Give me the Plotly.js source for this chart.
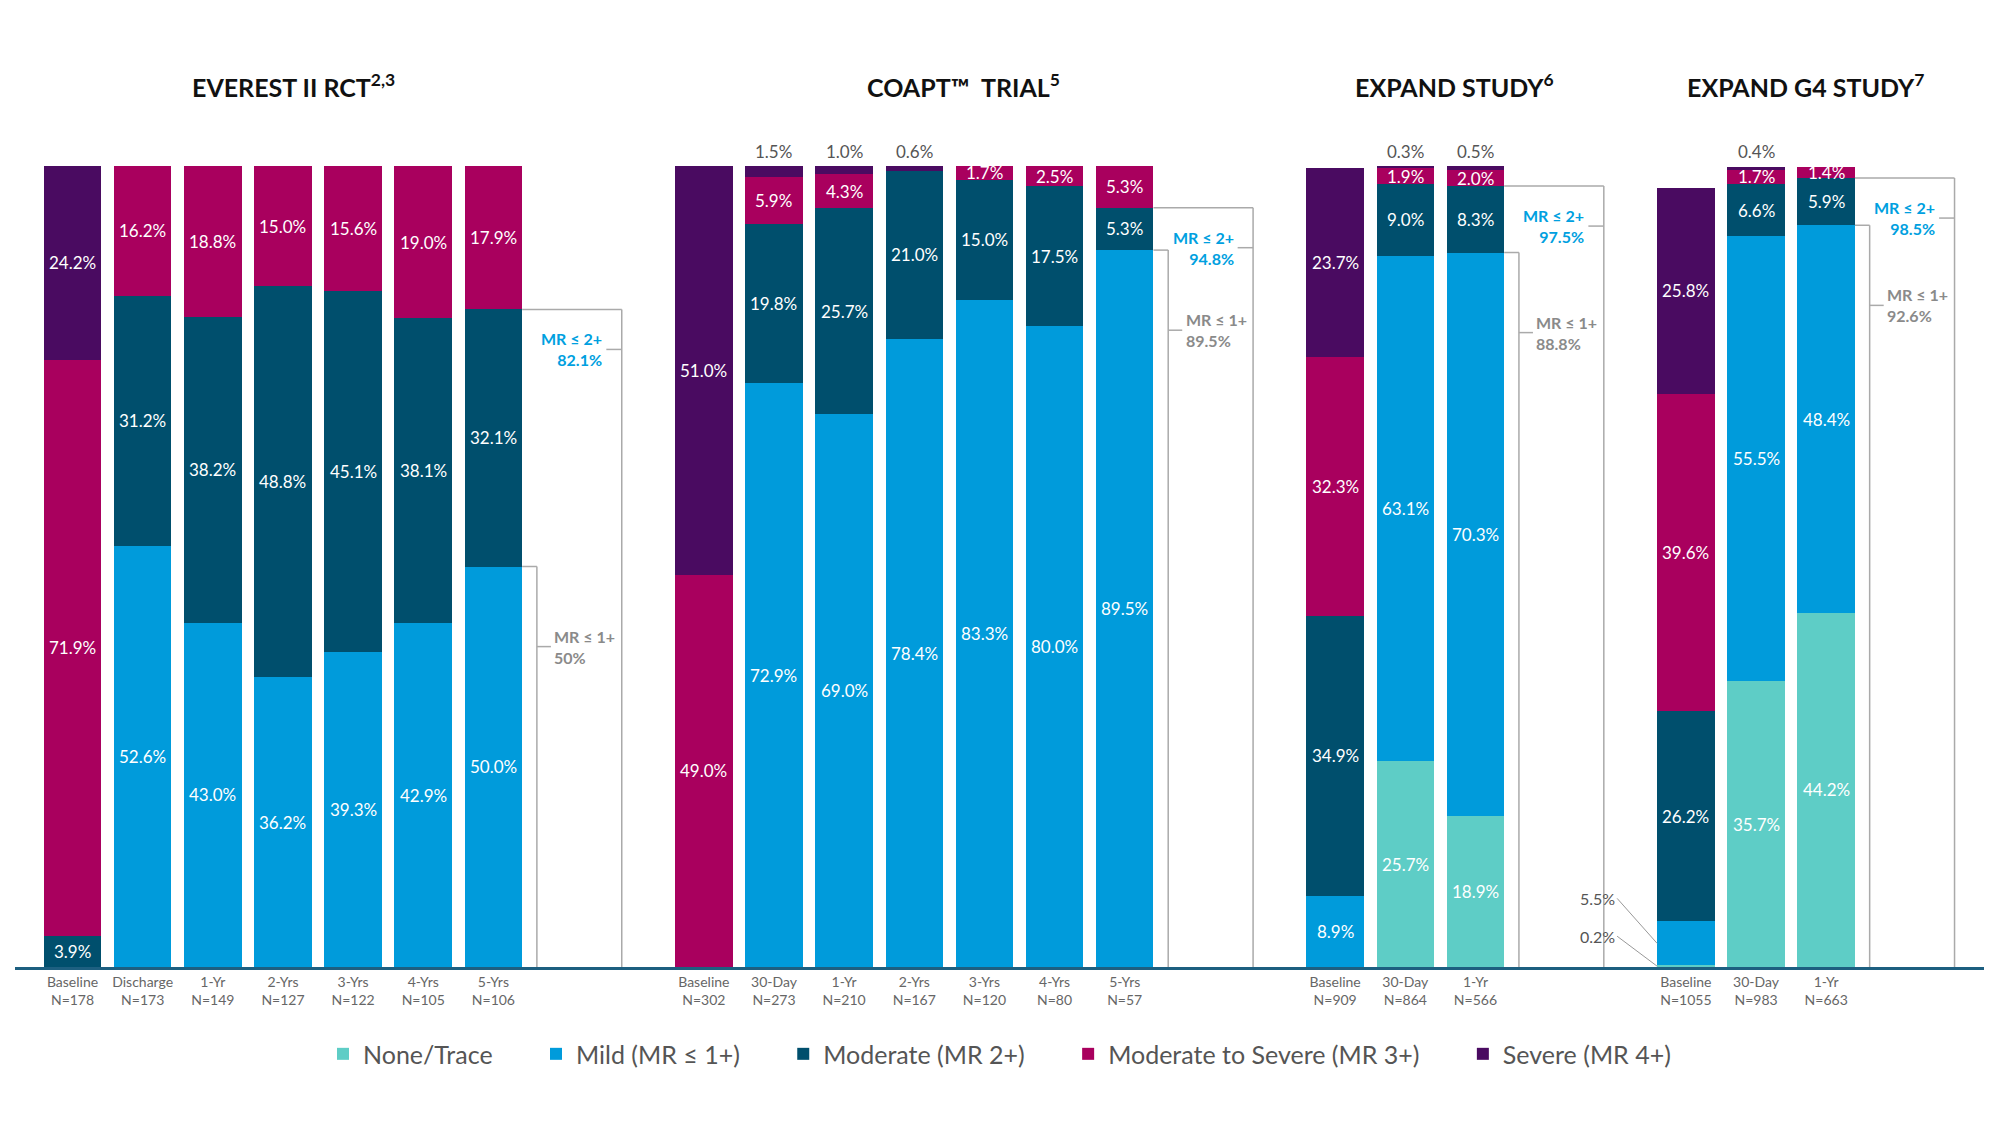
<!DOCTYPE html>
<html>
<head>
<meta charset="utf-8">
<script src="https://cdn.plot.ly/plotly-3.0.1.min.js"></script>
<style>
  html, body { margin: 0; padding: 0; background: #fff; }
  #chart { width: 2000px; height: 1145px; }
</style>
</head>
<body>
<div id="chart"></div>
<script>
// study groups, with the visits in each
var groupTitles = ['EVEREST II RCT<sup>2,3</sup>', 'COAPT\u2122  TRIAL<sup>5</sup>', 'EXPAND STUDY<sup>6</sup>', 'EXPAND G4 STUDY<sup>7</sup>'];
var groupSizes = [7, 7, 3, 3];
var visitLabels = ['Baseline', 'Discharge', '1-Yr', '2-Yrs', '3-Yrs', '4-Yrs', '5-Yrs',
                   'Baseline', '30-Day', '1-Yr', '2-Yrs', '3-Yrs', '4-Yrs', '5-Yrs',
                   'Baseline', '30-Day', '1-Yr',
                   'Baseline', '30-Day', '1-Yr'];
var sampleSizes = [178, 173, 149, 127, 122, 105, 106,
                   302, 273, 210, 167, 120, 80, 57,
                   909, 864, 566,
                   1055, 983, 663];

// MR grade, percent of patients (bottom to top)
var noneTrace = [0, 0, 0, 0, 0, 0, 0,   0, 0, 0, 0, 0, 0, 0,   0, 25.7, 18.9,   0.2, 35.7, 44.2];
var mild      = [0, 52.6, 43.0, 36.2, 39.3, 42.9, 50.0,   0, 72.9, 69.0, 78.4, 83.3, 80.0, 89.5,   8.9, 63.1, 70.3,   5.5, 55.5, 48.4];
var moderate  = [3.9, 31.2, 38.2, 48.8, 45.1, 38.1, 32.1,   0, 19.8, 25.7, 21.0, 15.0, 17.5, 5.3,   34.9, 9.0, 8.3,   26.2, 6.6, 5.9];
var modSevere = [71.9, 16.2, 18.8, 15.0, 15.6, 19.0, 17.9,   49.0, 5.9, 4.3, 0, 1.7, 2.5, 5.3,   32.3, 1.9, 2.0,   39.6, 1.7, 1.4];
var severe    = [24.2, 0, 0, 0, 0, 0, 0,   51.0, 1.5, 1.0, 0.6, 0, 0, 0,   23.7, 0.3, 0.5,   25.8, 0.4, 0];

// bracket totals for the last visit of each study
var mr2Totals = ['82.1%', '94.8%', '97.5%', '98.5%'];
var mr1Totals = ['50%', '89.5%', '88.8%', '92.6%'];

var seriesNames = ['None/Trace', 'Mild (MR \u2264 1+)', 'Moderate (MR 2+)', 'Moderate to Severe (MR 3+)', 'Severe (MR 4+)'];
var seriesColors = ['#5ecdc6', '#009bdb', '#004f6d', '#a9005e', '#4a0b61'];
var series = [noneTrace, mild, moderate, modSevere, severe];

// x positions: two empty slots between studies
var xPos = [];
var groupStart = [];
var pos = 0;
groupSizes.forEach(function (n) {
    groupStart.push(pos);
    for (var i = 0; i < n; i++) { xPos.push(pos); pos++; }
    pos += 2;
});

var barWidth = 0.82;
var pad = '\u00a0\u00a0\u00a0\u00a0\u00a0\u00a0';
var data = series.map(function (vals, s) {
    return {
        type: 'bar', x: xPos, y: vals, name: seriesNames[s] + (s < series.length - 1 ? pad : ''),
        width: barWidth,
        marker: { color: seriesColors[s], line: { width: 0 } },
        hoverinfo: 'skip'
    };
});

var annotations = [];
var shapes = [];
var gray = '#555555';
var labelFont = { family: 'Lato, sans-serif', size: 17, color: '#ffffff' };

for (var b = 0; b < xPos.length; b++) {
    var base = 0;
    for (var s = 0; s < series.length; s++) {
        var v = series[s][b];
        if (v > 0) {
            var mid = base + v / 2;
            var txt = v.toFixed(1) + '%';
            if (s === series.length - 1 && v <= 1.5) {
                annotations.push({ x: xPos[b], y: 100, yanchor: 'bottom', yshift: 2, text: txt,
                    showarrow: false, font: { family: 'Lato, sans-serif', size: 17, color: gray } });
            } else if (s <= 1 && v < 6) {
                annotations.push({ x: xPos[b] - barWidth / 2, y: mid, text: txt, showarrow: true,
                    arrowhead: 0, arrowwidth: 1, arrowcolor: '#999', ax: -40, ay: s === 0 ? -30 : -45,
                    xanchor: 'right', font: { family: 'Lato, sans-serif', size: 16, color: gray } });
            } else {
                annotations.push({ x: xPos[b], y: mid, text: txt, showarrow: false, font: labelFont });
            }
        }
        base += v;
    }
}

// study titles and brackets
var titleOffsets = [3.15, 3.7, 1.7, 1.7];
groupSizes.forEach(function (n, g) {
    annotations.push({ x: groupStart[g] + titleOffsets[g], y: 1, yref: 'paper', yanchor: 'bottom', yshift: 62,
        text: '<b>' + groupTitles[g] + '</b>', showarrow: false,
        font: { family: 'Lato, sans-serif', size: 25, color: '#111' } });

    var last = groupStart[g] + n - 1;
    var idx = xPos.indexOf(last);
    var top1 = noneTrace[idx] + mild[idx];
    var top2 = top1 + moderate[idx];
    var edge = last + barWidth / 2;
    var x2 = last + 1.83;
    var x1 = last + 0.62;
    var lc = { color: '#aaaaaa', width: 1.5 };

    shapes.push({ type: 'line', x0: edge, x1: x2, y0: top2, y1: top2, line: lc });
    shapes.push({ type: 'line', x0: x2, x1: x2, y0: top2, y1: 0, line: lc });
    shapes.push({ type: 'line', x0: x2 - 0.22, x1: x2, y0: top2 - 5, y1: top2 - 5, line: lc });
    annotations.push({ x: x2 - 0.25, y: top2 - 5, xanchor: 'right', align: 'right', showarrow: false,
        text: '<b>MR \u2264 2+<br>' + mr2Totals[g] + '</b>',
        font: { family: 'Lato, sans-serif', size: 16, color: '#00a0e0' } });

    shapes.push({ type: 'line', x0: edge, x1: x1, y0: top1, y1: top1, line: lc });
    shapes.push({ type: 'line', x0: x1, x1: x1, y0: top1, y1: 0, line: lc });
    shapes.push({ type: 'line', x0: x1, x1: x1 + 0.2, y0: top1 - 10, y1: top1 - 10, line: lc });
    annotations.push({ x: x1 + 0.22, y: top1 - 10, xanchor: 'left', align: 'left', showarrow: false,
        text: '<b>MR \u2264 1+<br>' + mr1Totals[g] + '</b>',
        font: { family: 'Lato, sans-serif', size: 16, color: '#8a8a8a' } });
});

var tickText = visitLabels.map(function (l, i) { return l + '<br>N=' + sampleSizes[i]; });

var layout = {
    barmode: 'stack',
    width: 2000, height: 1145,
    margin: { l: 15, r: 16, t: 166, b: 178 },
    paper_bgcolor: '#fff', plot_bgcolor: '#fff',
    showlegend: true,
    legend: { orientation: 'h', x: 0.5, xanchor: 'center', y: -0.08, yanchor: 'top',
        font: { family: 'Lato, sans-serif', size: 25, color: '#555' }, itemwidth: 30, traceorder: 'normal' },
    xaxis: {
        range: [-0.82, 27.25], tickvals: xPos, ticktext: tickText, ticks: '',
        showgrid: false, zeroline: false, showline: true, linecolor: '#1d5f80', linewidth: 3,
        tickfont: { family: 'Lato, sans-serif', size: 14, color: '#666' }
    },
    yaxis: { range: [0, 100], visible: false, showgrid: false, zeroline: false },
    annotations: annotations,
    shapes: shapes
};

Plotly.newPlot('chart', data, layout, { displayModeBar: false, staticPlot: true });
</script>
</body>
</html>
